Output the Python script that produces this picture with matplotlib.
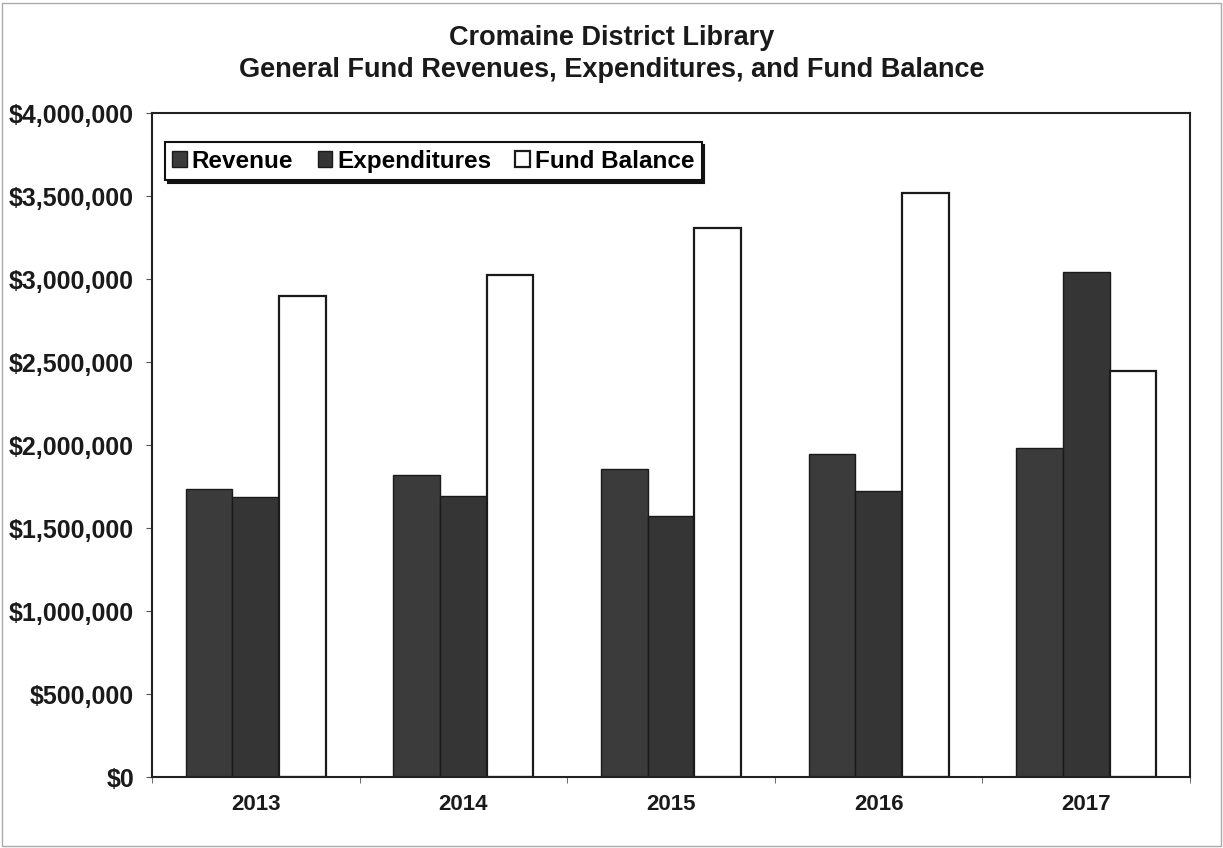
#Cromaine District Library chart

import numpy as np
import matplotlib.pyplot as plt
from matplotlib.ticker import FuncFormatter, FixedLocator

plt.rcParams['font.family'] = ['Liberation Sans', 'DejaVu Sans']

#Data
years = ['2013', '2014', '2015', '2016', '2017']
revenue = [1735000, 1819000, 1855000, 1946000, 1982000]
expenditures = [1687000, 1693000, 1572000, 1723000, 3042000]
fund_balance = [2898000, 3027000, 3310000, 3519000, 2446000]

x = np.arange(len(years))
w = 0.225

fig = plt.figure(figsize=(12.23, 8.48), dpi=100)
ax = fig.add_axes([0.1243, 0.0837, 0.9730 - 0.1243, 0.8667 - 0.0837])

ax.bar(x - w, revenue, w, color='#3b3b3b', edgecolor='#1a1a1a', linewidth=1, label='Revenue')
ax.bar(x, expenditures, w, color='#353535', edgecolor='#1a1a1a', linewidth=1, label='Expenditures')
ax.bar(x + w, fund_balance, w, color='white', edgecolor='#1a1a1a', linewidth=1.6, label='Fund Balance')

ax.set_xlim(-0.5, len(years) - 0.5)
ax.set_ylim(0, 4000000)
ax.set_yticks(np.arange(0, 4000001, 500000))
ax.yaxis.set_major_formatter(FuncFormatter(lambda v, p: '${:,.0f}'.format(v)))
ax.set_xticks(x)
ax.set_xticklabels(years)
ax.xaxis.set_minor_locator(FixedLocator(np.arange(-0.5, len(years), 1)))
ax.tick_params(axis='x', which='major', length=0, pad=12)
ax.tick_params(axis='x', which='minor', length=4, color='#555555')
ax.tick_params(axis='y', length=4, color='#555555', pad=9)

for lab in ax.get_yticklabels() + ax.get_xticklabels():
    lab.set_fontweight('bold')
    lab.set_color('#1a1a1a')
for lab in ax.get_yticklabels():
    lab.set_fontsize(18)
for lab in ax.get_xticklabels():
    lab.set_fontsize(16)

for s in ax.spines.values():
    s.set_color('#222222')
    s.set_linewidth(1.5)

leg = ax.legend(loc='upper left', bbox_to_anchor=(0.0125, 0.956), borderaxespad=0,
                ncol=3, fancybox=False, shadow={'color': '#111111', 'alpha': 1},
                edgecolor='#111111', framealpha=1,
                handlelength=0.6, handleheight=0.6, handletextpad=0.2, columnspacing=1.0,
                borderpad=0.3, prop={'size': 17.5, 'weight': 'bold'})
leg.get_frame().set_linewidth(1.5)

fig.text(0.5, 0.936, 'Cromaine District Library\nGeneral Fund Revenues, Expenditures, and Fund Balance',
         ha='center', va='center', fontsize=19.5, fontweight='bold', color='#1a1a1a', linespacing=1.3)

fig.patches.append(plt.Rectangle((0.002, 0.002), 0.996, 0.994, transform=fig.transFigure,
                                 fill=False, edgecolor='#aaaaaa', linewidth=1))

fig.savefig('out.png', dpi=100)
